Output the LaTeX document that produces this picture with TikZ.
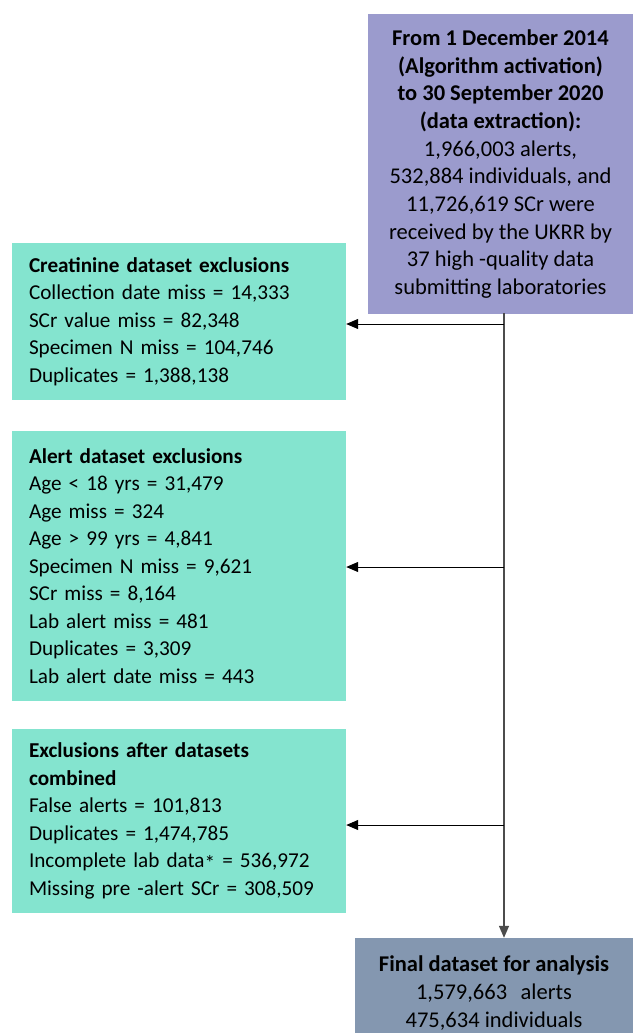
\documentclass[tikz,border=0pt]{standalone}
\usepackage{fontspec}
\setmainfont{Carlito}
\usetikzlibrary{arrows.meta}
\definecolor{topc}{RGB}{155,155,205}
\definecolor{greenc}{RGB}{132,228,207}
\definecolor{finalc}{RGB}{132,151,176}
\tikzset{
  txt/.style={font=\fontsize{21.2}{27.5}\selectfont},
  bigtxt/.style={font=\fontsize{22.5}{27.7}\selectfont},
  topbox/.style={bigtxt, fill=topc, draw=none, align=center, inner sep=0pt, minimum width=265pt, minimum height=299pt},
  exbox/.style={txt, fill=greenc, draw=none, align=left, text width=300pt, inner xsep=17pt, inner ysep=0pt, minimum width=334pt},
  finbox/.style={bigtxt, fill=finalc, draw=none, align=center, inner sep=0pt, minimum width=278pt, minimum height=110pt},
  trunk/.style={draw=black!70, line width=1.4pt},
  arr/.style={draw=black, line width=1pt, -{Triangle[length=12pt,width=10pt]}}
}
\begin{document}
\begin{tikzpicture}[x=1pt,y=-1pt]
\useasboundingbox (0,0) rectangle (633,1033);
\clip (0,0) rectangle (633,1033);
\fill[white] (0,0) rectangle (633,1033);
\node[topbox] (top) at (500.5,164) {\textbf{From 1 December 2014}\\\textbf{(Algorithm activation)}\\\textbf{to 30 September 2020}\\\textbf{(data extraction):}\\1,966,003 alerts,\\532,884 individuals, and\\11,726,619 SCr were\\received by the UKRR by\\37 high -quality data\\submitting laboratories};
\node[exbox, minimum height=157pt] (cre) at (179,321.5) {\textbf{Creatinine dataset exclusions}\\Collection date miss = 14,333\\SCr value miss = 82,348\\Specimen N miss = 104,746\\Duplicates = 1,388,138};
\node[exbox, minimum height=270pt] (ale) at (179,566) {\textbf{Alert dataset exclusions}\\Age < 18 yrs = 31,479\\Age miss = 324\\Age > 99 yrs = 4,841\\Specimen N miss = 9,621\\SCr miss = 8,164\\Lab alert miss = 481\\Duplicates = 3,309\\Lab alert date miss = 443};
\node[exbox, minimum height=184pt] (comb) at (179,821) {\textbf{Exclusions after datasets}\\\textbf{combined}\\False alerts = 101,813\\Duplicates = 1,474,785\\Incomplete lab data\raisebox{-0.25ex}{*} = 536,972\\Missing pre -alert SCr = 308,509};
\node[finbox] (fin) at (494,993) {\textbf{Final dataset for analysis}\\1,579,663\hspace{0.6em}alerts\\475,634 individuals};
\coordinate (v0) at (504,313);
\coordinate (v1) at (504,324);
\coordinate (v2) at (504,567);
\coordinate (v3) at (504,825);
\draw[trunk] (v0) -- (v3);
\draw[trunk, -{Triangle[length=12pt,width=10pt]}] (v3) -- (fin.north -| v3);
\draw[arr] (v1) -- (cre.east |- v1);
\draw[arr] (v2) -- (ale.east |- v2);
\draw[arr] (v3) -- (comb.east |- v3);
\end{tikzpicture}
\end{document}
